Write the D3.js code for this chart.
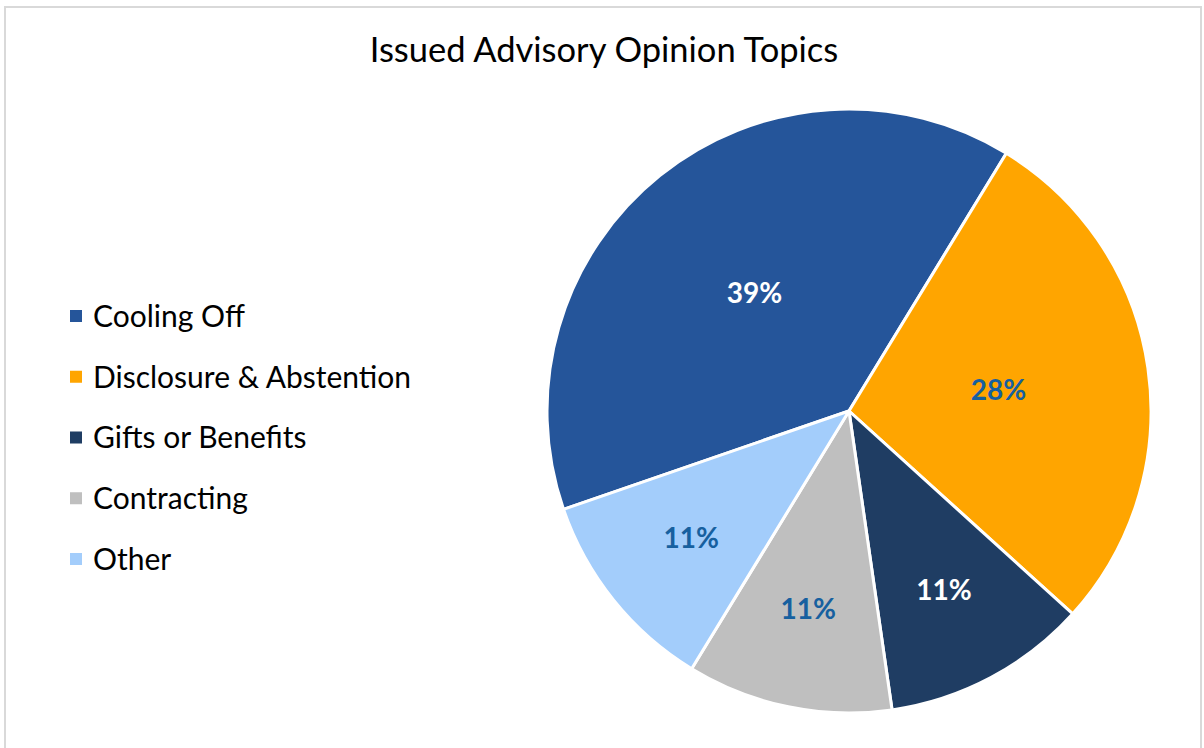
<!DOCTYPE html>
<html>
<head>
<meta charset="utf-8">
<script src="https://cdn.jsdelivr.net/npm/d3@7"></script>
<style>
  html, body { margin: 0; padding: 0; background: #fff; }
  svg { display: block; }
</style>
</head>
<body>
<svg id="chart" width="1204" height="748"></svg>
<script>
const categories = ["Cooling Off", "Disclosure & Abstention", "Gifts or Benefits", "Contracting", "Other"];
const values = [39, 28, 11, 11, 11];
const colors = ["#25559a", "#ffa500", "#1f3d63", "#bfbfbf", "#a3cdfb"];
const labelColors = ["#ffffff", "#17609f", "#ffffff", "#17609f", "#17609f"];
const title = "Issued Advisory Opinion Topics";

const svg = d3.select("#chart");
const font = "Lato, 'Open Sans', sans-serif";

// chart border
svg.append("rect")
  .attr("x", 5).attr("y", 7).attr("width", 1196).attr("height", 760)
  .attr("fill", "#fff").attr("stroke", "#d9d9d9").attr("stroke-width", 2);

// title
svg.append("text")
  .attr("x", 604).attr("y", 62)
  .attr("text-anchor", "middle")
  .attr("font-family", font)
  .attr("font-size", 34.5)
  .attr("fill", "#000")
  .text(title);

// pie
const cx = 849, cy = 411, r = 302;
const total = d3.sum(values);
const startDeg = -109;
const pie = d3.pie().sort(null).value(d => d.v)
  .startAngle(startDeg * Math.PI / 180)
  .endAngle((startDeg + 360) * Math.PI / 180);
const arcs = pie(categories.map((c, i) => ({ c, v: values[i], i })));
const arc = d3.arc().innerRadius(0).outerRadius(r);

const g = svg.append("g").attr("transform", `translate(${cx},${cy})`);
g.selectAll("path").data(arcs).join("path")
  .attr("d", arc)
  .attr("fill", d => colors[d.data.i])
  .attr("stroke", "#fff")
  .attr("stroke-width", 3)
  .attr("stroke-linejoin", "round");

// best-fit style label placement: small slices pushed outward
function labelPos(d) {
  const share = d.data.v / total;
  const rr = share < 0.15 ? r * 1.34 : r;
  return d3.arc().innerRadius(0).outerRadius(rr).centroid(d);
}
g.selectAll("text.lbl").data(arcs).join("text")
  .attr("class", "lbl")
  .attr("transform", d => { const [x, y] = labelPos(d); return `translate(${x},${y})`; })
  .attr("text-anchor", "middle")
  .attr("dy", "0.36em")
  .attr("font-family", font)
  .attr("font-weight", "bold")
  .attr("font-size", 28)
  .attr("fill", d => labelColors[d.data.i])
  .text(d => Math.round(d.data.v / total * 100) + "%");

// legend
const legY = d3.scalePoint().domain(categories).range([316, 559]);
const leg = svg.append("g");
const items = leg.selectAll("g").data(categories).join("g")
  .attr("transform", d => `translate(70,${legY(d)})`);
items.append("rect")
  .attr("x", 0).attr("y", -6).attr("width", 12).attr("height", 12)
  .attr("fill", (d, i) => colors[i]);
items.append("text")
  .attr("x", 23).attr("dy", "0.36em")
  .attr("font-family", font)
  .attr("font-size", 30)
  .attr("fill", "#000")
  .text(d => d);
</script>
</body>
</html>
